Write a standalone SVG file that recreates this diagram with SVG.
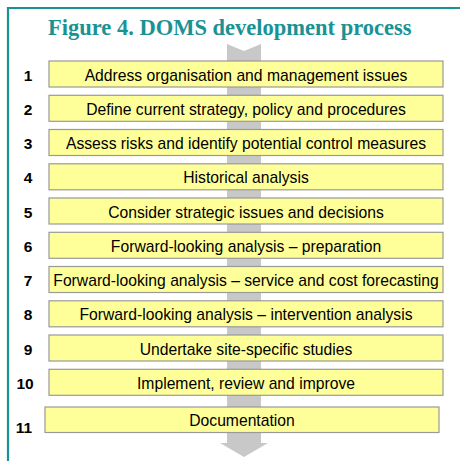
<svg xmlns="http://www.w3.org/2000/svg" width="460" height="461" viewBox="0 0 460 461">
<style>
.box{fill:#ffff99;stroke:#999999;stroke-width:1.2}
.t{font-family:"Liberation Sans",Arial,sans-serif;font-size:15.7px;fill:#000;text-anchor:middle}
.n{font-family:"Liberation Sans",Arial,sans-serif;font-size:15.5px;font-weight:bold;fill:#000;text-anchor:middle}
.title{font-family:"Liberation Serif","Times New Roman",serif;font-size:22.5px;font-weight:bold;fill:#1a9294}
</style>
<rect width="460" height="461" fill="#ffffff"/>
<path d="M8 461 V8 H460" fill="none" stroke="#1a9294" stroke-width="2.2"/>
<text class="title" x="48" y="35">Figure 4. DOMS development process</text>
<g id="connectors">
<path d="M227 44 L244 51 L261 44 V443 H268 L244 457 L220 443 H227 Z" fill="#c8c8c8"/>
</g>
<g id="n1"><rect class="box" x="49" y="61" width="394" height="26"/><text class="n" x="28" y="80.5">1</text><text class="t" x="246" y="80.5">Address organisation and management issues</text></g>
<g id="n2"><rect class="box" x="49" y="95.3" width="394" height="26"/><text class="n" x="28" y="114.8">2</text><text class="t" x="246" y="114.8">Define current strategy, policy and procedures</text></g>
<g id="n3"><rect class="box" x="49" y="129.5" width="394" height="26"/><text class="n" x="28" y="149">3</text><text class="t" x="246" y="149">Assess risks and identify potential control measures</text></g>
<g id="n4"><rect class="box" x="49" y="163.8" width="394" height="26"/><text class="n" x="28" y="183.3">4</text><text class="t" x="246" y="183.3">Historical analysis</text></g>
<g id="n5"><rect class="box" x="49" y="198" width="394" height="26"/><text class="n" x="28" y="217.5">5</text><text class="t" x="246" y="217.5">Consider strategic issues and decisions</text></g>
<g id="n6"><rect class="box" x="49" y="232.3" width="394" height="26"/><text class="n" x="28" y="251.8">6</text><text class="t" x="246" y="251.8">Forward-looking analysis – preparation</text></g>
<g id="n7"><rect class="box" x="49" y="266.5" width="394" height="26"/><text class="n" x="28" y="286">7</text><text class="t" x="246" y="286">Forward-looking analysis – service and cost forecasting</text></g>
<g id="n8"><rect class="box" x="49" y="300.8" width="394" height="26"/><text class="n" x="28" y="320.3">8</text><text class="t" x="246" y="320.3">Forward-looking analysis – intervention analysis</text></g>
<g id="n9"><rect class="box" x="49" y="335" width="394" height="26"/><text class="n" x="28" y="354.5">9</text><text class="t" x="246" y="354.5">Undertake site-specific studies</text></g>
<g id="n10"><rect class="box" x="49" y="369.3" width="394" height="26"/><text class="n" x="25" y="388.8">10</text><text class="t" x="246" y="388.8">Implement, review and improve</text></g>
<g id="n11"><rect class="box" x="45" y="407" width="394" height="25.5"/><text class="n" x="24" y="433">11</text><text class="t" x="242" y="426">Documentation</text></g>
</svg>
